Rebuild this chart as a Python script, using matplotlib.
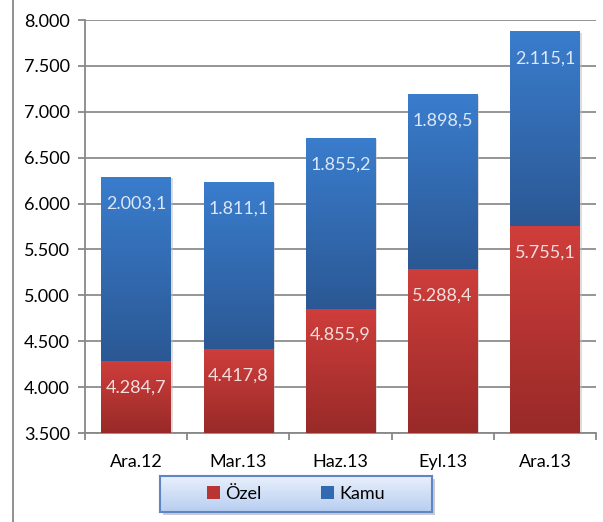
import matplotlib.pyplot as plt
import matplotlib.patches as mpatches
import numpy as np
from matplotlib.colors import LinearSegmentedColormap
from matplotlib.lines import Line2D

plt.rcParams['font.family'] = ['Lato', 'DejaVu Sans']

# data
periods = ['Ara.12', 'Mar.13', 'Haz.13', 'Eyl.13', 'Ara.13']
ozel = [4284.7, 4417.8, 4855.9, 5288.4, 5755.1]
kamu = [2003.1, 1811.1, 1855.2, 1898.5, 2115.1]
y_ticks = [3500, 4000, 4500, 5000, 5500, 6000, 6500, 7000, 7500, 8000]


def tr_fmt(v, dec=1):
    s = f'{v:,.{dec}f}'
    return s.replace(',', 'X').replace('.', ',').replace('X', '.')


red_cmap = LinearSegmentedColormap.from_list('r', ['#982a28', '#cf3e3b'])
blue_cmap = LinearSegmentedColormap.from_list('b', ['#2b5894', '#3a7dcd'])
leg_cmap = LinearSegmentedColormap.from_list('l', ['#b7cdf0', '#e8f0fc'])
FS = 13

fig = plt.figure(figsize=(6.03, 5.22), dpi=100)
ax = fig.add_axes([85 / 603, 1 - 433 / 522, 511 / 603, 413 / 522])

x = np.arange(len(periods))
ymin = y_ticks[0]
bot = ax.bar(x, np.array(ozel) - ymin, bottom=ymin, width=0.68, color='none', zorder=3)
top = ax.bar(x, kamu, bottom=ozel, width=0.68, color='none', zorder=3)

grad = np.linspace(0, 1, 256).reshape(-1, 1)
for bars, cmap in ((bot, red_cmap), (top, blue_cmap)):
    for p in bars:
        x0, y0 = p.get_x(), p.get_y()
        w, h = p.get_width(), p.get_height()
        # light shadow
        ax.add_patch(mpatches.Rectangle((x0 + 0.02, y0 - 10), w, h, color='#bbbbbb',
                                        alpha=0.5, zorder=2, lw=0))
        ax.imshow(grad, cmap=cmap, origin='lower', aspect='auto',
                  extent=(x0, x0 + w, y0, y0 + h), zorder=3, interpolation='bilinear')

for bars, vals, tc in ((bot, ozel, '#f3dede'), (top, kamu, '#dce7f7')):
    for p, v in zip(bars, vals):
        ax.annotate(tr_fmt(v), (p.get_x() + p.get_width() / 2, p.get_y() + p.get_height()),
                    xytext=(0, -19), textcoords='offset points', ha='center', va='center',
                    color=tc, fontsize=FS, zorder=5)

ax.set_xlim(-0.5, len(periods) - 0.5)
ax.set_ylim(y_ticks[0], y_ticks[-1])
ax.set_yticks(y_ticks)
ax.set_yticklabels([tr_fmt(v, 0) for v in y_ticks])
ax.set_xticks(x)
ax.set_xticklabels(periods)
ax.set_xticks(np.arange(-0.5, len(periods)), minor=True)
ax.tick_params(axis='x', which='major', length=0, pad=15, labelsize=FS)
ax.tick_params(axis='x', which='minor', length=5, color='#888888', width=1.3)
ax.tick_params(axis='y', length=5, color='#888888', width=1.3, labelsize=FS, pad=6)
ax.grid(axis='y', color='#8c8c8c', linewidth=1.3, zorder=0)
ax.set_axisbelow(True)
for s in ('top', 'right'):
    ax.spines[s].set_visible(False)
for s in ('left', 'bottom'):
    ax.spines[s].set_color('#888888')
    ax.spines[s].set_linewidth(1.3)

# chart border on the left
fig.add_artist(Line2D([13 / 603, 13 / 603], [0, 1], color='#888888', lw=1.3))

# legend box: shadow + gradient panel
lx, ly, lw_, lh = 160 / 603, 1 - 512 / 522, 272 / 603, 36 / 522
shadow = mpatches.Rectangle((lx + 3 / 603, ly - 3 / 522), lw_, lh,
                            transform=fig.transFigure, color='#cccccc', lw=0)
shadow.set_zorder(1)
fig.add_artist(shadow)
lax = fig.add_axes([lx, ly, lw_, lh])
lax.set_zorder(2)
lax.imshow(grad, cmap=leg_cmap, origin='lower', aspect='auto', extent=(0, 1, 0, 1))
lax.set_xticks([])
lax.set_yticks([])
for s in lax.spines.values():
    s.set_color('#5f85c4')
    s.set_linewidth(1.5)

handles = [mpatches.Patch(facecolor='#b83533', edgecolor='none', label='Özel'),
           mpatches.Patch(facecolor='#3369b0', edgecolor='none', label='Kamu')]
leg = lax.legend(handles=handles, loc='center', bbox_to_anchor=(0.5, 0.5),
                 ncol=2, frameon=False, fontsize=FS,
                 handlelength=0.7, handleheight=0.7, handletextpad=0.3, columnspacing=3.3,
                 borderpad=0, borderaxespad=0)

fig.savefig('out.png', dpi=100)
